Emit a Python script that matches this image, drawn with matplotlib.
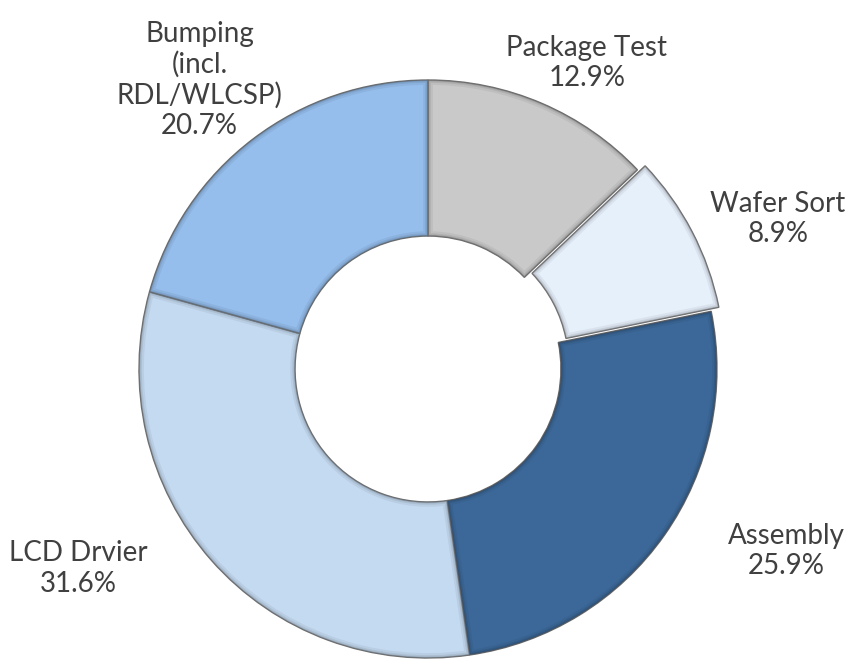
import matplotlib.pyplot as plt
from matplotlib.patches import Wedge
from matplotlib.colors import to_rgb

categories = ["Package Test", "Wafer Sort", "Assembly", "LCD Drvier", "Bumping\n(incl.\nRDL/WLCSP)"]
shares = [12.9, 8.9, 25.9, 31.6, 20.7]
colors = ["#C9C9C9", "#E6F0FB", "#3C6899", "#C4DAF1", "#95BEEC"]
explode = [0, 0.03, 0, 0, 0]

# label anchors (data units, pie radius = 1)
label_xy = [(0.55, 1.06), (1.21, 0.52), (1.24, -0.63), (-1.21, -0.69), (-0.79, 1.0)]

fig = plt.figure(figsize=(8.62, 6.61), dpi=100)
ax = fig.add_axes([0, 0, 1, 1])

wedges, _ = ax.pie(
    shares,
    colors=colors,
    explode=explode,
    startangle=90,
    counterclock=False,
    radius=1.0,
    wedgeprops=dict(width=0.54, edgecolor="#6f6f6f", linewidth=1.0),
)

# soft bevel: darker rim drawn inside each wedge
for w, c in zip(wedges, colors):
    dark = tuple(v * 0.55 for v in to_rgb(c))
    for lw, a in [(7, 0.12), (4, 0.18), (2, 0.25)]:
        rim = Wedge(w.center, w.r, w.theta1, w.theta2, width=w.width,
                    facecolor="none", edgecolor=dark, linewidth=lw, alpha=a)
        ax.add_patch(rim)
        rim.set_clip_path(w)

for name, val, (x, y) in zip(categories, shares, label_xy):
    ax.text(x, y, f"{name}\n{val:.1f}%", ha="center", va="center",
            fontsize=20, color="#404040", family="Lato", linespacing=1.2)

ax.set_xlim(-428 / 289, (862 - 428) / 289)
ax.set_ylim(-(661 - 369) / 289, 369 / 289)
ax.set_aspect("equal")
ax.axis("off")

fig.savefig("out.png", dpi=100)
